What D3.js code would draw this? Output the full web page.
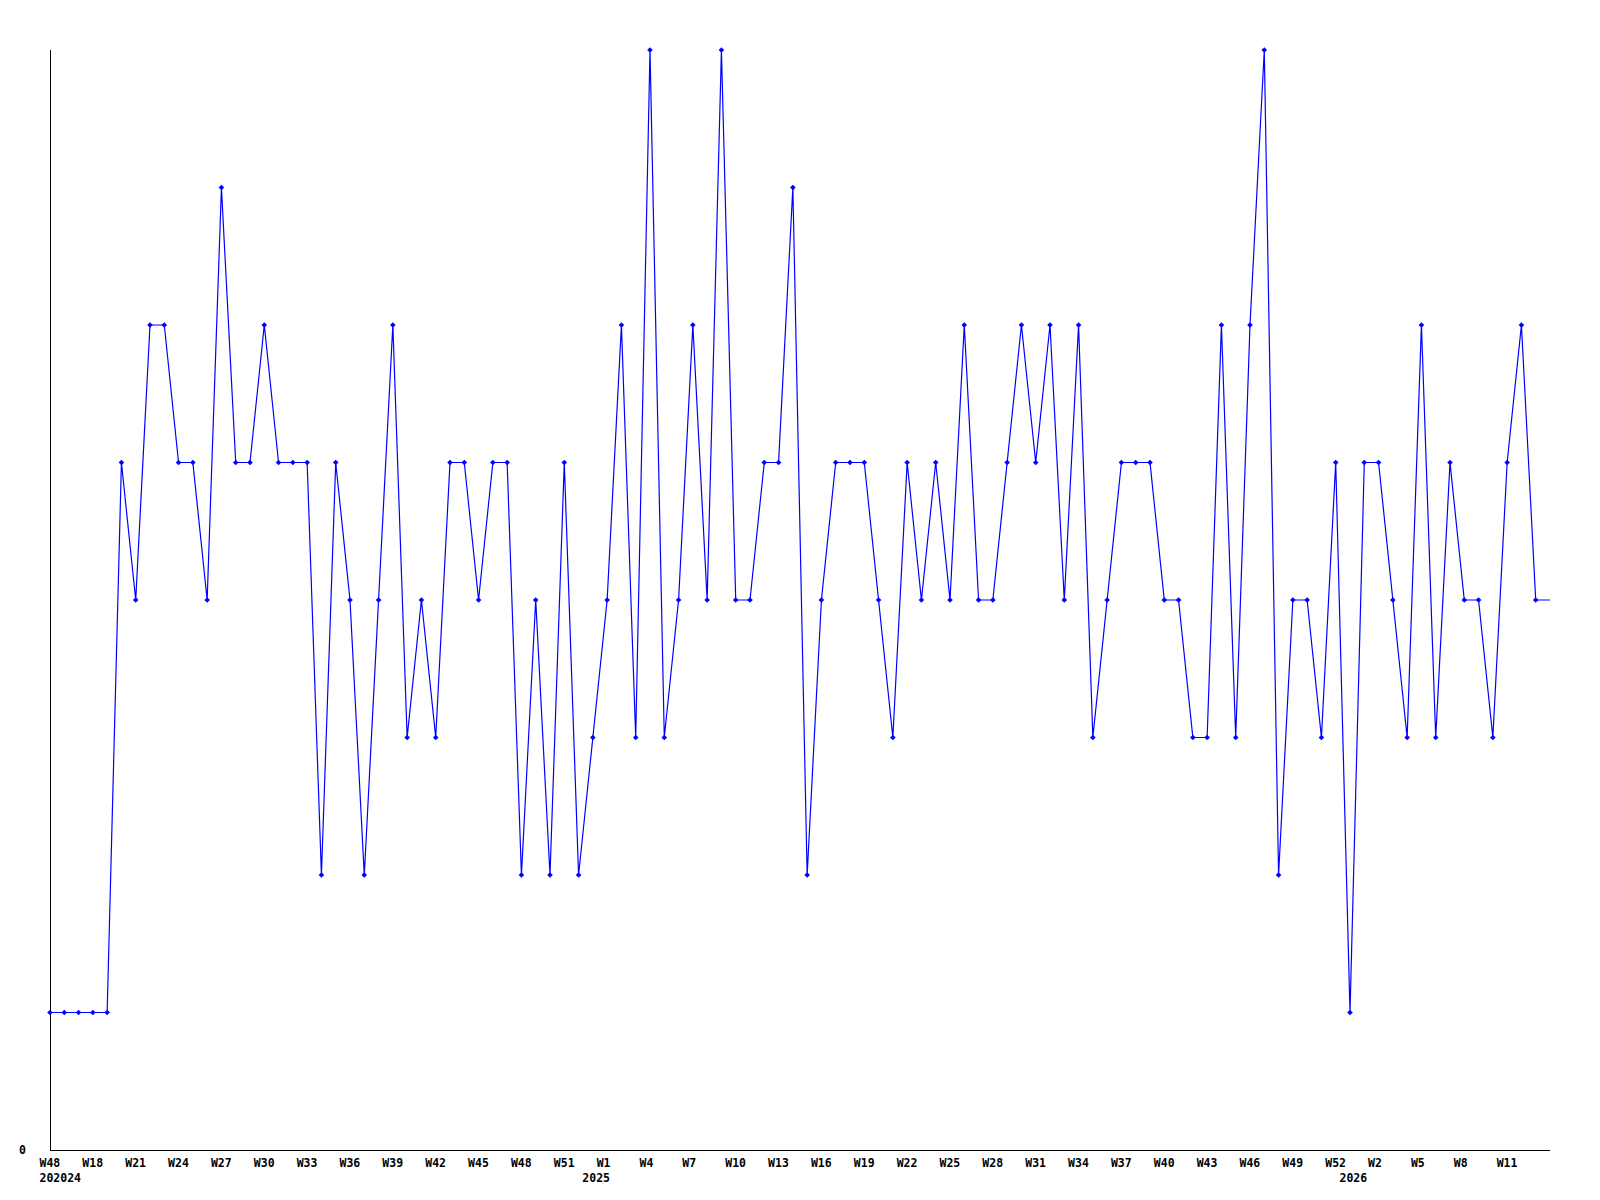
<!DOCTYPE html>
<html>
<head>
<meta charset="utf-8">
<script src="https://cdn.jsdelivr.net/npm/d3@7"></script>
<style>
  body { margin: 0; background: #fff; }
  svg text { font-family: "DejaVu Sans Mono", "Liberation Mono", monospace; font-weight: bold; font-size: 11.5px; fill: #000; }
</style>
</head>
<body>
<div id="chart"></div>
<script>
(function() {
"use strict";

// weekly values, one per week in order
var values = [1, 1, 1, 1, 1, 5, 4, 6, 6, 5, 5, 4, 7, 5, 5, 6, 5, 5, 5, 2,
              5, 4, 2, 4, 6, 3, 4, 3, 5, 5, 4, 5, 5, 2, 4, 2, 5, 2, 3, 4,
              6, 3, 8, 3, 4, 6, 4, 8, 4, 4, 5, 5, 7, 2, 4, 5, 5, 5, 4, 3,
              5, 4, 5, 4, 6, 4, 4, 5, 6, 5, 6, 4, 6, 3, 4, 5, 5, 5, 4, 4,
              3, 3, 6, 3, 6, 8, 2, 4, 4, 3, 5, 1, 5, 5, 4, 3, 6, 3, 5, 4,
              4, 3, 5, 6, 4];

// week tick labels: position index and text
var weekTickIndex = [0, 3, 6, 9, 12, 15, 18, 21, 24, 27, 30, 33, 36, 39, 42, 45, 48, 51,
                     54, 57, 60, 63, 66, 69, 72, 75, 78, 81, 84, 87, 90, 93, 96, 99, 102];
var weekTickLabels = ["W48", "W18", "W21", "W24", "W27", "W30", "W33", "W36", "W39", "W42",
                      "W45", "W48", "W51", "W1", "W4", "W7", "W10", "W13", "W16", "W19",
                      "W22", "W25", "W28", "W31", "W34", "W37", "W40", "W43", "W46", "W49",
                      "W52", "W2", "W5", "W8", "W11"];

// year labels under the week labels
var yearTickIndex = [0, 38, 91];
var yearTickLabels = ["202024", "2025", "2026"];

var yTickValues = [0];

var width = 1600;
var height = 1200;

var svg = d3.select("#chart")
    .append("svg")
    .attr("width", width)
    .attr("height", height);

var x = d3.scaleLinear().domain([0, 105]).range([50, 1550]);
var y = d3.scaleLinear().domain([0, 8]).range([1150, 50]);

// axes (plain lines, no tick marks)
svg.append("line")
    .attr("x1", x(0)).attr("x2", x(0))
    .attr("y1", y(8)).attr("y2", y(0))
    .attr("stroke", "#000").attr("shape-rendering", "crispEdges");
svg.append("line")
    .attr("x1", x(0)).attr("x2", x(105))
    .attr("y1", y(0)).attr("y2", y(0))
    .attr("stroke", "#000").attr("shape-rendering", "crispEdges");

svg.selectAll(".ylab")
    .data(yTickValues)
    .enter().append("text")
    .attr("class", "ylab")
    .attr("x", 19)
    .attr("y", function(d) { return y(d) + 4; })
    .text(function(d) { return d; });

svg.selectAll(".wlab")
    .data(weekTickIndex)
    .enter().append("text")
    .attr("class", "wlab")
    .attr("x", function(d) { return x(d) - 10.5; })
    .attr("y", 1167)
    .text(function(d, i) { return weekTickLabels[i]; });

svg.selectAll(".ylabel")
    .data(yearTickIndex)
    .enter().append("text")
    .attr("class", "ylabel")
    .attr("x", function(d) { return x(d) - 10.5; })
    .attr("y", 1182)
    .text(function(d, i) { return yearTickLabels[i]; });

// line runs on to the end of the axis at the last value
var linePts = values.map(function(v, i) { return [i, v]; });
linePts.push([105, values[values.length - 1]]);

var line = d3.line()
    .x(function(d) { return x(d[0]); })
    .y(function(d) { return y(d[1]); });

svg.append("path")
    .datum(linePts)
    .attr("d", line)
    .attr("fill", "none")
    .attr("stroke", "#0000ff")
    .attr("stroke-width", 1.2);

var diamond = d3.symbol().type(d3.symbolDiamond2).size(20);

svg.selectAll(".pt")
    .data(values)
    .enter().append("path")
    .attr("class", "pt")
    .attr("d", diamond)
    .attr("transform", function(d, i) { return "translate(" + x(i) + "," + y(d) + ")"; })
    .attr("fill", "#0000ff");

})();
</script>
</body>
</html>
